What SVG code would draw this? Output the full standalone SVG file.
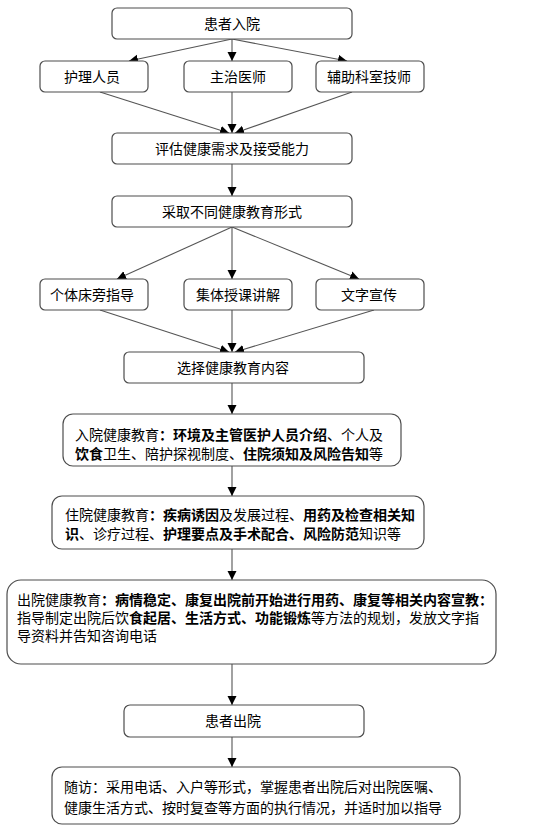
<svg xmlns="http://www.w3.org/2000/svg" width="541" height="828" viewBox="0 0 541 828">
<style>
.bg{fill:#ffffff}
.box{fill:#ffffff;stroke:#4d4d4d;stroke-width:1.2}
.t{font-family:"Liberation Sans","Noto Sans CJK SC",sans-serif;font-size:14px;fill:#000}
.c{text-anchor:middle}
.b{font-weight:bold}
.ln{stroke:#555;stroke-width:1.1;fill:none}
</style>
<defs>
<marker id="ah" markerUnits="userSpaceOnUse" markerWidth="10" markerHeight="10" refX="9" refY="4.5" orient="auto">
<path d="M0,0 L9,4.5 L0,9 Z" fill="#000"/>
</marker>
</defs>
<rect class="bg" x="0" y="0" width="541" height="828"/>
<g id="connectors">
<path class="ln" d="M232,39 L129,61" marker-end="url(#ah)"/>
<path class="ln" d="M232,39 L232,61" marker-end="url(#ah)"/>
<path class="ln" d="M232,39 L347,61" marker-end="url(#ah)"/>
<path class="ln" d="M100,92 L229,133" marker-end="url(#ah)"/>
<path class="ln" d="M232,92 L232,133" marker-end="url(#ah)"/>
<path class="ln" d="M352,92 L235,133" marker-end="url(#ah)"/>
<path class="ln" d="M232,164 L232,196" marker-end="url(#ah)"/>
<path class="ln" d="M232,227 L117,279" marker-end="url(#ah)"/>
<path class="ln" d="M232,227 L232,279" marker-end="url(#ah)"/>
<path class="ln" d="M232,227 L359,279" marker-end="url(#ah)"/>
<path class="ln" d="M100,310 L229,352" marker-end="url(#ah)"/>
<path class="ln" d="M232,310 L232,352" marker-end="url(#ah)"/>
<path class="ln" d="M374,310 L235,352" marker-end="url(#ah)"/>
<path class="ln" d="M232,383 L232,414" marker-end="url(#ah)"/>
<path class="ln" d="M232,466 L232,496" marker-end="url(#ah)"/>
<path class="ln" d="M232,549 L232,580" marker-end="url(#ah)"/>
<path class="ln" d="M232,664 L232,705" marker-end="url(#ah)"/>
<path class="ln" d="M232,737 L232,767" marker-end="url(#ah)"/>
</g>
<g id="n1"><rect class="box" x="112" y="8" width="240" height="31" rx="5"/><text class="t c" x="232" y="29">患者入院</text></g>
<g id="n2"><rect class="box" x="40" y="61" width="108" height="31" rx="5"/><text class="t c" x="92" y="82">护理人员</text></g>
<g id="n3"><rect class="box" x="184" y="61" width="108" height="31" rx="5"/><text class="t c" x="238" y="82">主治医师</text></g>
<g id="n4"><rect class="box" x="316" y="61" width="108" height="31" rx="5"/><text class="t c" x="369" y="82">辅助科室技师</text></g>
<g id="n5"><rect class="box" x="112" y="133" width="240" height="31" rx="5"/><text class="t c" x="232" y="154">评估健康需求及接受能力</text></g>
<g id="n6"><rect class="box" x="112" y="196" width="240" height="31" rx="5"/><text class="t c" x="232" y="217">采取不同健康教育形式</text></g>
<g id="n7"><rect class="box" x="40" y="279" width="108" height="31" rx="5"/><text class="t c" x="92" y="300">个体床旁指导</text></g>
<g id="n8"><rect class="box" x="184" y="279" width="108" height="31" rx="5"/><text class="t c" x="238" y="300">集体授课讲解</text></g>
<g id="n9"><rect class="box" x="316" y="279" width="108" height="31" rx="5"/><text class="t c" x="369" y="300">文字宣传</text></g>
<g id="n10"><rect class="box" x="124" y="352" width="240" height="31" rx="5"/><text class="t c" x="233" y="373">选择健康教育内容</text></g>
<g id="n11"><rect class="box" x="63" y="414" width="338" height="52" rx="10"/>
<text class="t" x="75" y="440">入院健康教育<tspan class="b">：环境及主管医护人员介绍</tspan>、个人及</text>
<text class="t" x="75" y="459"><tspan class="b">饮食</tspan>卫生、陪护探视制度、<tspan class="b">住院须知及风险告知</tspan>等</text></g>
<g id="n12"><rect class="box" x="52" y="496" width="372" height="53" rx="10"/>
<text class="t" x="65" y="520">住院健康教育<tspan class="b">：疾病诱因</tspan>及发展过程、<tspan class="b">用药及检查相关知</tspan></text>
<text class="t" x="65" y="539"><tspan class="b">识</tspan>、诊疗过程、<tspan class="b">护理要点及手术配合、风险防范</tspan>知识等</text></g>
<g id="n13"><rect class="box" x="7" y="580" width="489" height="84" rx="14"/>
<text class="t" x="17" y="605">出院健康教育<tspan class="b">：病情稳定、康复出院前开始进行用药、康复等相关内容宣教：</tspan></text>
<text class="t" x="17" y="623">指导制定出院后饮<tspan class="b">食起居、生活方式、功能锻炼</tspan>等方法的规划，发放文字指</text>
<text class="t" x="17" y="641">导资料并告知咨询电话</text></g>
<g id="n14"><rect class="box" x="124" y="705" width="240" height="32" rx="6"/><text class="t c" x="233" y="726">患者出院</text></g>
<g id="n15"><rect class="box" x="52" y="767" width="408" height="57" rx="10"/>
<text class="t" x="64" y="792">随访：采用电话、入户等形式，掌握患者出院后对出院医嘱、</text>
<text class="t" x="64" y="813">健康生活方式、按时复查等方面的执行情况，并适时加以指导</text></g>
</svg>
